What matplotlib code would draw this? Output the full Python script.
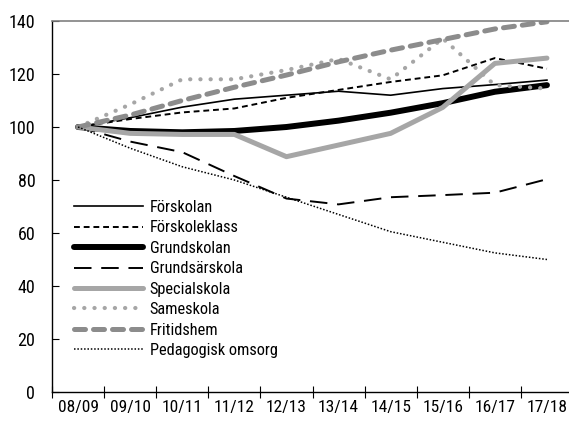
import matplotlib
matplotlib.use("Agg")
import matplotlib.pyplot as plt
from matplotlib import font_manager
import numpy as np

years = ["08/09", "09/10", "10/11", "11/12", "12/13", "13/14", "14/15", "15/16", "16/17", "17/18"]

forskolan = [100, 103.5, 107.5, 110.5, 112, 113.5, 112, 114.5, 116, 117.7]
forskoleklass = [100, 103, 105.5, 107, 111, 114, 117, 119.5, 126, 122]
grundskolan = [100, 98.5, 98, 98.5, 100, 102.4, 105.4, 109, 113.3, 115.8]
grundsarskola = [100, 94.5, 90.5, 81.5, 73, 70.8, 73.5, 74.3, 75.2, 80.3]
specialskola = [100, 97.6, 97.2, 97.2, 88.8, 93.2, 97.6, 107.4, 124, 126]
sameskola = [100, 108.5, 118, 118, 121.5, 125.7, 118, 133.4, 115.8, 114.5]
fritidshem = [100, 104.5, 110, 115, 119.6, 124.6, 129, 133, 137, 139.7]
pedagogisk = [100, 92, 85, 80, 73.5, 67, 60.5, 56.5, 52.5, 50]

# pick a condensed font if there is one
installed = set(f.name for f in font_manager.fontManager.ttflist)
wanted = ["Roboto Condensed", "Archivo Narrow", "Liberation Sans Narrow", "PT Sans Narrow",
          "Fira Sans Condensed", "IBM Plex Sans Condensed", "Open Sans Condensed",
          "Barlow Semi Condensed", "Encode Sans Condensed", "Asap Condensed"]
narrow = [n for n in wanted if n in installed][:1]
plt.rcParams["font.family"] = narrow + ["DejaVu Sans"]

fig = plt.figure(figsize=(5.69, 4.24), dpi=100)
ax = fig.add_axes([52 / 569, 32 / 424, 521 / 569, 371 / 424])

x = np.arange(len(years))
lt = "#a6a6a6"
dk = "#8c8c8c"

ax.plot(x, forskolan, color="black", lw=1.2, label="Förskolan")
ax.plot(x, forskoleklass, color="black", lw=1.4, dashes=(3, 2), label="Förskoleklass")
ax.plot(x, grundskolan, color="black", lw=4.3, solid_capstyle="round", label="Grundskolan")
ax.plot(x, grundsarskola, color="black", lw=1.4, dashes=(9, 5), label="Grundsärskola")
ax.plot(x, specialskola, color=lt, lw=3.6, solid_capstyle="round", label="Specialskola")
ax.plot(x, sameskola, color=lt, lw=3, dashes=(0.05, 2.4), dash_capstyle="round", label="Sameskola")
ax.plot(x, fritidshem, color=dk, lw=3.6, dashes=(2.2, 1.6), dash_capstyle="round", label="Fritidshem")
ax.plot(x, pedagogisk, color="black", lw=1.1, dashes=(1, 1.2), label="Pedagogisk omsorg")

ax.set_xlim(-0.5, len(years) - 0.5)
ax.set_ylim(0, 140)
ax.set_yticks(range(0, 141, 20))
ax.set_xticks(np.arange(-0.5, len(years), 1.0))
ax.set_xticklabels([])
ax.set_xticks(x, minor=True)
ax.set_xticklabels(years, minor=True)

ax.spines["right"].set_visible(False)
ax.spines["top"].set_color("#808080")
ax.spines["top"].set_linewidth(1.2)
ax.spines["left"].set_linewidth(1.0)
ax.spines["bottom"].set_linewidth(1.0)

ax.tick_params(axis="y", direction="in", length=5, width=0.8, pad=12, labelsize=13)
ax.tick_params(axis="x", which="major", direction="inout", length=9, width=0.8)
ax.tick_params(axis="x", which="minor", length=0, pad=6, labelsize=12.5)

leg = ax.legend(loc="upper left", bbox_to_anchor=(0.03, 0.535), frameon=False,
                fontsize=11.8, handlelength=4.2, handletextpad=0.4,
                labelspacing=0.33, borderaxespad=0)

fig.savefig("out.png", dpi=100)
